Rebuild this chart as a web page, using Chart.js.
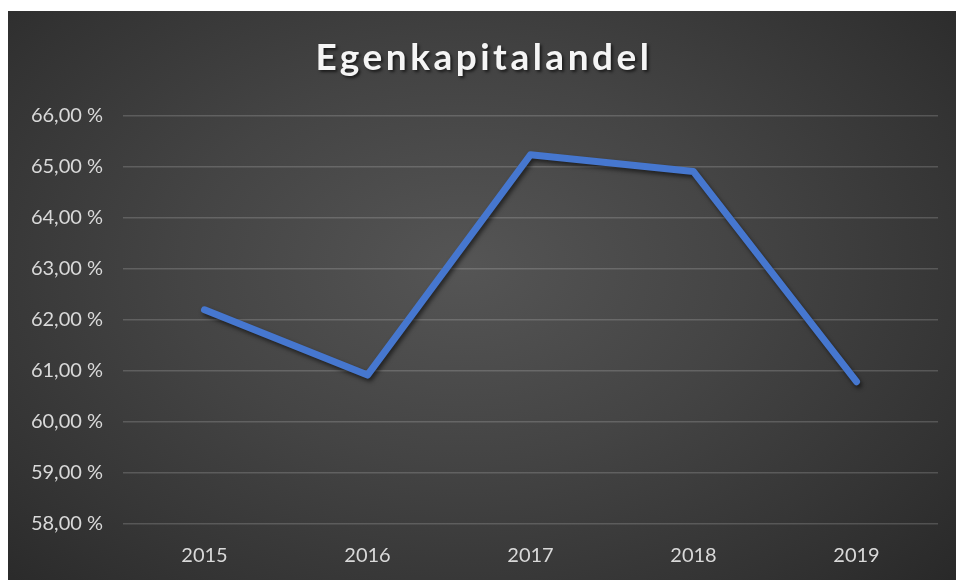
<!DOCTYPE html>
<html>
<head>
<meta charset="utf-8">
<script src="https://cdn.jsdelivr.net/npm/chart.js@4/dist/chart.umd.min.js"></script>
<style>
  html, body { margin: 0; padding: 0; background: #fff; }
  #panel {
    position: absolute; left: 8px; top: 11px; width: 948px; height: 569px;
    background: radial-gradient(ellipse 75% 85% at 48% 45%, #555555 0%, #444444 40%, #333333 75%, #262626 100%);
  }
</style>
</head>
<body>
<div id="panel"><canvas id="equity-chart" width="948" height="569"></canvas></div>
<script>
const years = ["2015", "2016", "2017", "2018", "2019"];
const equityShare = [62.20, 60.92, 65.24, 64.91, 60.79];
const chartTitle = "Egenkapitalandel";

// title with a soft drop shadow, drawn on top of everything
const titlePlugin = {
  id: "shadowTitle",
  afterDraw(chart) {
    const ctx = chart.ctx;
    ctx.save();
    ctx.font = "bold 37px Lato";
    ctx.letterSpacing = "3.5px";
    ctx.fillStyle = "#f5f5f5";
    ctx.textAlign = "center";
    ctx.textBaseline = "alphabetic";
    ctx.shadowColor = "rgba(0,0,0,0.6)";
    ctx.shadowOffsetX = 2;
    ctx.shadowOffsetY = 2;
    ctx.shadowBlur = 3;
    ctx.fillText(chartTitle, chart.width / 2 + 2, 59);
    ctx.restore();
  }
};

// dark shadow under the line
const lineShadow = {
  id: "lineShadow",
  beforeDatasetsDraw(chart) {
    const ctx = chart.ctx;
    ctx.save();
    ctx.shadowColor = "rgba(0,0,0,0.55)";
    ctx.shadowOffsetX = 2;
    ctx.shadowOffsetY = 3;
    ctx.shadowBlur = 4;
  },
  afterDatasetsDraw(chart) {
    chart.ctx.restore();
  }
};

new Chart(document.getElementById("equity-chart"), {
  type: "line",
  data: {
    labels: years,
    datasets: [{
      label: chartTitle,
      data: equityShare,
      borderColor: "#4677cf",
      borderWidth: 7,
      borderCapStyle: "round",
      borderJoinStyle: "round",
      pointRadius: 0,
      tension: 0,
      fill: false
    }]
  },
  options: {
    responsive: false,
    animation: false,
    layout: { padding: { top: 105, right: 18, left: 0, bottom: 0 } },
    plugins: {
      legend: { display: false },
      title: { display: false },
      tooltip: { enabled: false }
    },
    scales: {
      x: {
        offset: true,
        grid: { display: false },
        border: { display: false },
        ticks: { color: "#d9d9d9", font: { family: "Lato", size: 20 }, padding: 12 },
        afterFit(axis) { axis.height = 56; }
      },
      y: {
        min: 58,
        max: 66,
        ticks: {
          stepSize: 1,
          color: "#d9d9d9",
          font: { family: "Lato", size: 20 },
          padding: 20,
          callback: v => v.toFixed(2).replace(".", ",") + " %"
        },
        grid: { color: "rgba(255,255,255,0.17)", lineWidth: 1.5, drawTicks: false },
        border: { display: false },
        afterFit(axis) { axis.width = 115; }
      }
    }
  },
  plugins: [lineShadow, titlePlugin]
});
</script>
</body>
</html>
